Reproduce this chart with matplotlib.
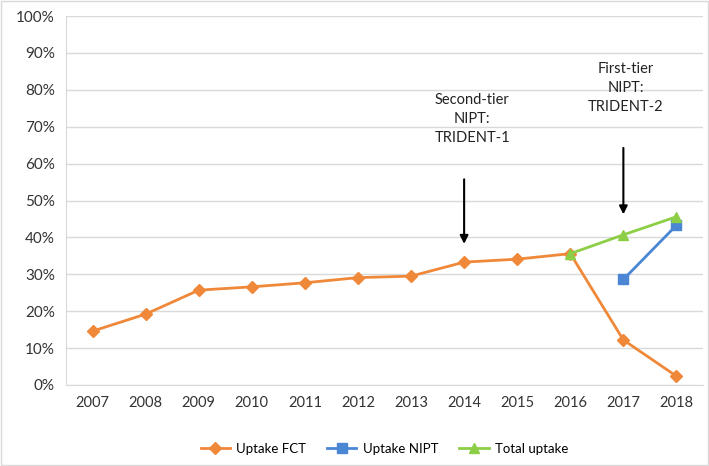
import matplotlib.pyplot as plt
import numpy as np
from matplotlib.patches import Rectangle

years = ["2007", "2008", "2009", "2010", "2011", "2012",
         "2013", "2014", "2015", "2016", "2017", "2018"]
uptake_fct = [14.6, 19.2, 25.7, 26.6, 27.7, 29.1, 29.5, 33.3, 34.1, 35.6, 12.2, 2.4]
uptake_nipt = [None] * 10 + [28.6, 43.3]
total_uptake = [None] * 9 + [35.6, 40.7, 45.6]

plt.rcParams['font.family'] = ['Lato', 'DejaVu Sans']

fig = plt.figure(figsize=(7.09, 4.66), dpi=100)
ax = fig.add_axes([66 / 709, 81 / 466, 637 / 709, 369 / 466])

x = np.arange(len(years))
to_arr = lambda v: np.array([np.nan if a is None else a for a in v], dtype=float)

ax.plot(x, to_arr(uptake_fct), color="#F0883A", lw=2, marker="D", ms=6,
        label="Uptake FCT", zorder=3)
ax.plot(x, to_arr(uptake_nipt), color="#4A86D4", lw=2, marker="s", ms=7,
        label="Uptake NIPT", zorder=3)
ax.plot(x, to_arr(total_uptake), color="#8CCF46", lw=2, marker="^", ms=7,
        label="Total uptake", zorder=4)

ax.set_xlim(-0.5, len(years) - 0.5)
ax.set_ylim(0, 100)
ax.set_yticks(range(0, 101, 10))
ax.set_yticklabels([f"{v}%" for v in range(0, 101, 10)], fontsize=11, color="#333333")
ax.set_xticks(x)
ax.set_xticklabels(years, fontsize=10.5, color="#333333")
ax.tick_params(length=0, pad=8)
ax.grid(axis="y", color="#D9D9D9", lw=1)
ax.set_axisbelow(True)
for s in ["top", "right"]:
    ax.spines[s].set_visible(False)
ax.spines["left"].set_color("#D9D9D9")
ax.spines["bottom"].set_color("#D9D9D9")

# annotations
ax.annotate("", xy=(7, 37.5), xytext=(7, 56.5),
            arrowprops=dict(arrowstyle="-|>", color="black", lw=1.5, mutation_scale=12))
ax.text(7.15, 72, "Second-tier\nNIPT:\nTRIDENT-1", ha="center", va="center",
        fontsize=10.5, color="#222222", linespacing=1.45)
ax.annotate("", xy=(10, 45.5), xytext=(10, 65),
            arrowprops=dict(arrowstyle="-|>", color="black", lw=1.5, mutation_scale=12))
ax.text(10.05, 80.5, "First-tier\nNIPT:\nTRIDENT-2", ha="center", va="center",
        fontsize=10.5, color="#222222", linespacing=1.45)

ax.legend(loc="upper center", bbox_to_anchor=(0.5, -0.125), ncol=3, frameon=False,
          fontsize=9.5, handlelength=2.2, handletextpad=0.5, columnspacing=1.6)

fig.patches.append(Rectangle((0.002, 0.002), 0.996, 0.996, transform=fig.transFigure,
                             fill=False, edgecolor="#D9D9D9", lw=1))

fig.savefig("out.png", dpi=100)
